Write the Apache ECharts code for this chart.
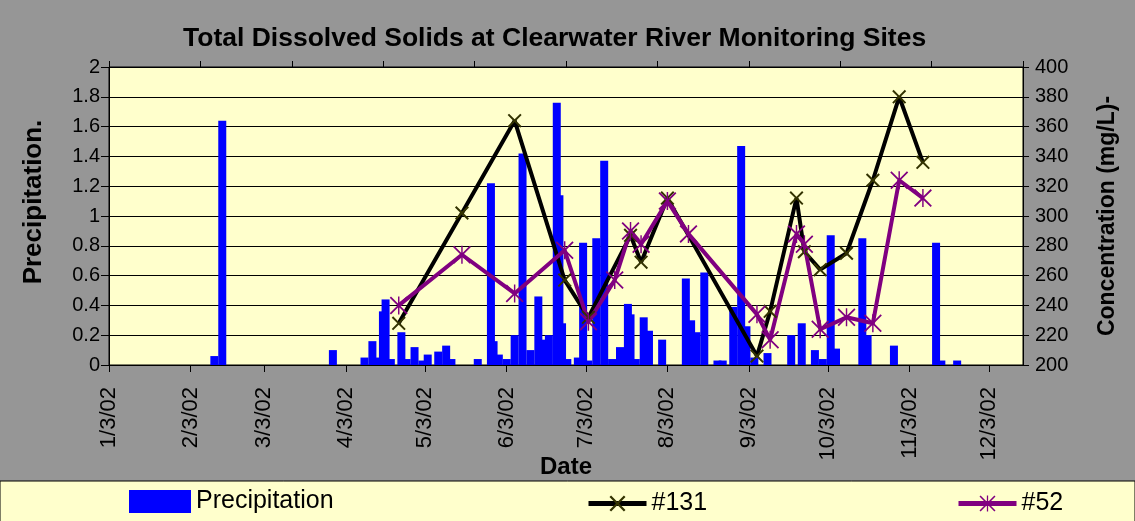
<!DOCTYPE html>
<html>
<head>
<meta charset="utf-8">
<title>Total Dissolved Solids at Clearwater River Monitoring Sites</title>
<script src="https://cdn.jsdelivr.net/npm/echarts@6/dist/echarts.min.js"></script>
<style>
html, body { margin: 0; padding: 0; background: #969696; }
#main { width: 1135px; height: 521px; }
</style>
</head>
<body>
<div id="main"></div>
<script>
// daily precipitation (left axis)
var rainDates = ['2002-02-12', '2002-02-15', '2002-03-29', '2002-04-10', '2002-04-13', '2002-04-15', '2002-04-17', '2002-04-18',
  '2002-04-20', '2002-04-24', '2002-04-26', '2002-04-29', '2002-05-02', '2002-05-04', '2002-05-08', '2002-05-11', '2002-05-13',
  '2002-05-23', '2002-05-28', '2002-05-29', '2002-05-31', '2002-06-03', '2002-06-06', '2002-06-09', '2002-06-12', '2002-06-15',
  '2002-06-17', '2002-06-19', '2002-06-22', '2002-06-23', '2002-06-24', '2002-06-26', '2002-06-30', '2002-07-02', '2002-07-04',
  '2002-07-07', '2002-07-10', '2002-07-13', '2002-07-16', '2002-07-19', '2002-07-20', '2002-07-22', '2002-07-25', '2002-07-27',
  '2002-08-01', '2002-08-10', '2002-08-12', '2002-08-14', '2002-08-17', '2002-08-22', '2002-08-24', '2002-08-28', '2002-08-31',
  '2002-09-02', '2002-09-05', '2002-09-10', '2002-09-19', '2002-09-23', '2002-09-28', '2002-10-01', '2002-10-04', '2002-10-06',
  '2002-10-16', '2002-10-18', '2002-10-28', '2002-11-13', '2002-11-15', '2002-11-21'];
var rainValues = [0.06, 1.64, 0.10, 0.05, 0.16, 0.05, 0.36, 0.44,
  0.04, 0.22, 0.04, 0.12, 0.03, 0.07, 0.09, 0.13, 0.04,
  0.04, 1.22, 0.16, 0.07, 0.04, 0.20, 1.42, 0.10, 0.46,
  0.17, 0.20, 1.76, 1.14, 0.28, 0.04, 0.05, 0.82, 0.03,
  0.85, 1.37, 0.04, 0.12, 0.41, 0.34, 0.04, 0.32, 0.23,
  0.17, 0.58, 0.30, 0.22, 0.62, 0.03, 0.03, 0.39, 1.47,
  0.26, 0.05, 0.08, 0.20, 0.28, 0.10, 0.04, 0.87, 0.11,
  0.85, 0.20, 0.13, 0.82, 0.03, 0.03];

// TDS samples (right axis, mg/L)
var sampleDates = ['2002-04-23', '2002-05-17', '2002-06-06', '2002-06-25', '2002-07-04', '2002-07-14', '2002-07-20', '2002-07-24',
  '2002-08-03', '2002-08-11', '2002-09-06', '2002-09-11', '2002-09-21', '2002-09-24', '2002-09-30', '2002-10-10',
  '2002-10-20', '2002-10-30', '2002-11-08'];
var tds131 = [228, 302, 364, 257, 232, null, 287, 269, 312, null, 206, 236, 312, 276, 264, 275, 324, 380, 336];
var tds52 = [240, 274, 248, 277, 229, 257, 290, 281, 310, 288, 234, 217, 288, 281, 224, 232, 228, 324, 312];

var monthTicks = ['2002-01-03', '2002-02-03', '2002-03-03', '2002-04-03', '2002-05-03', '2002-06-03',
  '2002-07-03', '2002-08-03', '2002-09-03', '2002-10-03', '2002-11-03', '2002-12-03'];

function toTime(s) {
  var p = s.split('-');
  return new Date(+p[0], +p[1] - 1, +p[2]).getTime();
}

function pairs(dates, vals) {
  return dates.map(function (d, i) { return [toTime(d), vals[i]]; });
}

var tickTimes = monthTicks.map(toTime);
var font = "'Liberation Sans', Arial, sans-serif";

var xMark = 'path://M0,10 L10,0 L50,40 L90,0 L100,10 L60,50 L100,90 L90,100 L50,60 L10,100 L0,90 L40,50 Z';
var starMark = 'path://M0,7 L7,0 L50,43 L93,0 L100,7 L57,50 L100,93 L93,100 L50,57 L7,100 L0,93 L43,50 Z M46,0 L54,0 L54,100 L46,100 Z';

var chart = echarts.init(document.getElementById('main'));

var option = {
  backgroundColor: '#969696',
  animation: false,
  textStyle: { fontFamily: font, color: '#000' },
  title: {
    text: 'Total Dissolved Solids at Clearwater River Monitoring Sites',
    left: 178,
    top: 20,
    textStyle: { fontFamily: font, fontSize: 26.5, fontWeight: 'bold', color: '#000' }
  },
  graphic: [{
    type: 'rect',
    z: 0,
    shape: { x: 0, y: 481, width: 1135, height: 41 },
    style: { fill: '#FFFFCC', stroke: '#000', lineWidth: 1 }
  }],
  legend: [{
    data: ['Precipitation'],
    icon: 'rect',
    left: 129, top: 489, padding: 0,
    itemWidth: 62, itemHeight: 23,
    textStyle: { fontFamily: font, fontSize: 25, color: '#000', padding: [4, 0, 0, 0] }
  }, {
    data: ['#131'],
    left: 586, top: 491, padding: 0,
    itemWidth: 58, itemHeight: 20,
    lineStyle: { width: 5 },
    textStyle: { fontFamily: font, fontSize: 25, color: '#000' }
  }, {
    data: ['#52'],
    left: 956, top: 491, padding: 0,
    itemWidth: 58, itemHeight: 20,
    lineStyle: { width: 5 },
    textStyle: { fontFamily: font, fontSize: 25, color: '#000' }
  }],
  grid: {
    left: 109, right: 112, top: 67, bottom: 156,
    show: true,
    backgroundColor: '#FFFFCC',
    borderColor: '#000',
    borderWidth: 1
  },
  xAxis: [{
    type: 'value',
    min: toTime('2002-01-03'),
    max: toTime('2002-12-16'),
    name: 'Date',
    nameLocation: 'middle',
    nameGap: 90,
    nameMoveOverlap: false,
    nameTextStyle: { fontFamily: font, fontSize: 24, fontWeight: 'bold', color: '#000' },
    axisLine: { lineStyle: { color: '#000', width: 1 } },
    axisTick: { show: true, inside: false, length: 7, customValues: tickTimes, lineStyle: { color: '#000' } },
    splitLine: { show: false },
    axisLabel: {
      customValues: tickTimes,
      rotate: 90,
      margin: 22,
      fontFamily: font,
      fontSize: 22,
      color: '#000',
      formatter: function (val) {
        var d = new Date(val);
        return (d.getMonth() + 1) + '/' + d.getDate() + '/' + String(d.getFullYear()).slice(2);
      }
    }
  }, {
    type: 'value',
    position: 'top',
    min: 0, max: 10, interval: 1,
    axisLine: { show: true, lineStyle: { color: '#000', width: 1 } },
    axisTick: { show: true, inside: false, length: 6, lineStyle: { color: '#000' } },
    axisLabel: { show: false },
    splitLine: { show: false }
  }],
  yAxis: [{
    type: 'value',
    position: 'left',
    min: 0, max: 2, interval: 0.2,
    name: 'Precipitation.',
    nameLocation: 'middle',
    nameRotate: 90,
    nameGap: 62,
    nameTextStyle: { fontFamily: font, fontSize: 26, fontWeight: 'bold', color: '#000', padding: [0, 0, 0, 28] },
    axisLine: { show: true, lineStyle: { color: '#000', width: 1 } },
    axisTick: { show: true, inside: false, length: 8, lineStyle: { color: '#000' } },
    axisLabel: { margin: 9, fontFamily: font, fontSize: 20, color: '#000' },
    splitLine: { show: true, lineStyle: { color: '#000', width: 1 } }
  }, {
    type: 'value',
    position: 'right',
    min: 200, max: 400, interval: 20,
    name: 'Concentration (mg/L)-',
    nameLocation: 'middle',
    nameRotate: 90,
    nameGap: 73,
    nameTextStyle: { fontFamily: font, fontSize: 23, fontWeight: 'bold', color: '#000' },
    axisLine: { show: true, lineStyle: { color: '#000', width: 1 } },
    axisTick: { show: true, inside: false, length: 6, lineStyle: { color: '#000' } },
    axisLabel: { margin: 12, fontFamily: font, fontSize: 20, color: '#000' },
    splitLine: { show: false }
  }],
  series: [{
    name: 'Precipitation',
    type: 'bar',
    xAxisIndex: 0,
    yAxisIndex: 0,
    barWidth: 8,
    itemStyle: { color: '#0000FF' },
    data: pairs(rainDates, rainValues)
  }, {
    name: '#131',
    type: 'line',
    xAxisIndex: 0,
    yAxisIndex: 1,
    connectNulls: true,
    symbol: xMark,
    symbolSize: 14,
    lineStyle: { color: '#000000', width: 4 },
    itemStyle: { color: '#333300' },
    data: pairs(sampleDates, tds131)
  }, {
    name: '#52',
    type: 'line',
    xAxisIndex: 0,
    yAxisIndex: 1,
    connectNulls: true,
    symbol: starMark,
    symbolSize: 18,
    lineStyle: { color: '#800080', width: 4 },
    itemStyle: { color: '#800080' },
    data: pairs(sampleDates, tds52)
  }]
};

chart.setOption(option);
</script>
</body>
</html>
